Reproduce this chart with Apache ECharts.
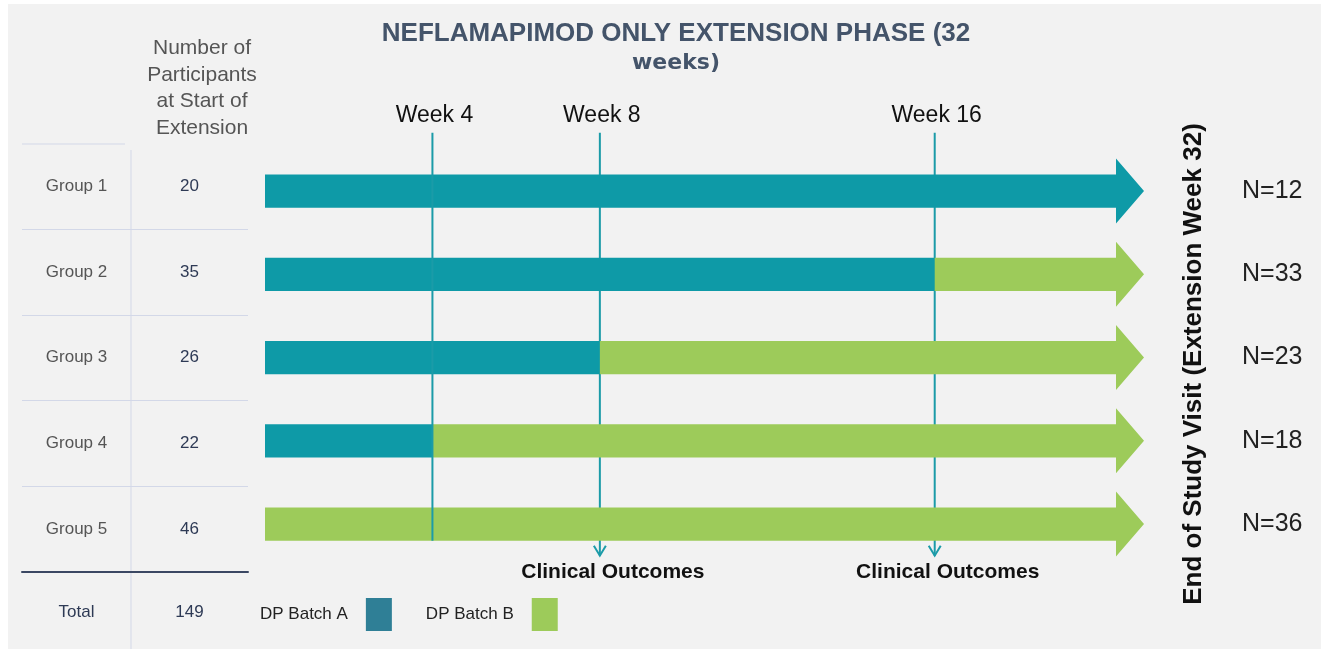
<!DOCTYPE html>
<html>
<head>
<meta charset="utf-8">
<title>Extension phase</title>
<style>
  html, body, #chart {width: 100%; height: 100%; margin: 0; overflow: hidden; background: #fff;}
</style>
</head>
<body>
<div id="chart"></div>
<script src="https://cdn.jsdelivr.net/npm/echarts@6/dist/echarts.min.js"></script>
<script>
var groups = ['Group 1', 'Group 2', 'Group 3', 'Group 4', 'Group 5'];
var startN = [20, 35, 26, 22, 46];
var endN = [12, 33, 23, 18, 36];
var total = 149;
// week where a group moves from batch A to batch B (null = stays on A)
var switchWeek = [null, 16, 8, 4, 0];
var weekMarks = [4, 8, 16];
var outcomeWeeks = [8, 16];
var arrowEnd = 21; // schematic end of the time line (arrow tip)

var teal = '#0e9aa7', green = '#9dcb5a', lineTeal = '#1b9ba8';
var sans = '"Liberation Sans", Arial, sans-serif';

var segA = [], segB = [];
groups.forEach(function (g, i) {
    var s = switchWeek[i] == null ? arrowEnd : switchWeek[i];
    if (s > 0) segA.push([0, s, i, s >= arrowEnd ? 1 : 0]);
    if (s < arrowEnd) segB.push([s, arrowEnd, i, 1]);
});

function renderBar(params, api) {
    var row = api.value(2);
    var p0 = api.coord([api.value(0), row]);
    var p1 = api.coord([api.value(1), row]);
    var band = api.size([0, 1])[1];
    var h = band * 0.4, H = band * 0.78, head = 28, y = p0[1];
    var fill = api.visual('color');
    if (!api.value(3)) {
        return {type: 'rect', shape: {x: p0[0], y: y - h / 2, width: p1[0] - p0[0], height: h}, style: {fill: fill}};
    }
    var xh = p1[0] - head;
    return {
        type: 'polygon',
        shape: {points: [[p0[0], y - h / 2], [xh, y - h / 2], [xh, y - H / 2], [p1[0], y],
                         [xh, y + H / 2], [xh, y + h / 2], [p0[0], y + h / 2]]},
        style: {fill: fill}
    };
}

function renderWeek(params, api) {
    var w = api.value(0), out = outcomeWeeks.indexOf(w) >= 0;
    var top = api.coord([w, 0]);
    var bot = api.coord([w, groups.length - 1]);
    var band = api.size([0, 1])[1];
    var x = top[0], yTop = top[1] - band * 0.7;
    var yBot = bot[1] + band * (out ? 0.38 : 0.2);
    var kids = [
        {type: 'line', shape: {x1: x, y1: yTop, x2: x, y2: yBot}, style: {stroke: lineTeal, lineWidth: 2}},
        {type: 'text', x: x + 2, y: yTop - 17,
         style: {text: 'Week ' + w, fill: '#111', font: '23px ' + sans, align: 'center', verticalAlign: 'middle'}}
    ];
    if (out) {
        kids.push({type: 'polyline', shape: {points: [[x - 6, yBot - 10], [x, yBot], [x + 6, yBot - 10]]},
                   style: {stroke: lineTeal, lineWidth: 2, fill: null}});
        kids.push({type: 'text', x: x + 13, y: yBot + 17,
                   style: {text: 'Clinical Outcomes', fill: '#111', font: 'bold 21px ' + sans, align: 'center', verticalAlign: 'middle'}});
    }
    return {type: 'group', children: kids};
}

var chart = echarts.init(document.getElementById('chart'));
chart.setOption({
    backgroundColor: '#ffffff',
    animation: false,
    title: {
        text: 'NEFLAMAPIMOD ONLY EXTENSION PHASE (32',
        subtext: 'weeks)',
        left: 671, top: 16, textAlign: 'center', itemGap: 5,
        textStyle: {fontSize: 26, fontWeight: 'bold', color: '#44546a', fontFamily: sans},
        subtextStyle: {fontSize: 22, fontWeight: 'bold', color: '#44546a', fontFamily: '"DejaVu Sans", sans-serif'}
    },
    legend: {
        left: 255, top: 593, align: 'right', icon: 'rect',
        itemWidth: 26, itemHeight: 33, itemGap: 34,
        textStyle: {fontSize: 17, color: '#222', fontFamily: sans, padding: [0, 13, 0, 0]},
        data: [
            {name: 'DP Batch A', itemStyle: {color: '#2f7f96'}},
            {name: 'DP Batch B', itemStyle: {color: green}}
        ]
    },
    grid: [
        {left: 265, right: 1321 - 1144, top: 149.4, height: 416.25},
        {left: 22, width: 226, top: 143.5, height: 428.5}
    ],
    xAxis: [
        {gridIndex: 0, type: 'value', min: 0, max: arrowEnd, show: false},
        {gridIndex: 1, type: 'value', min: 0, max: 1,
         axisLine: {show: true, lineStyle: {color: '#3b4863', width: 2}},
         axisTick: {show: false}, axisLabel: {show: false}, splitLine: {show: false}}
    ],
    yAxis: [
        {gridIndex: 0, type: 'category', data: groups, inverse: true, show: false},
        {gridIndex: 0, type: 'category', data: groups, inverse: true, position: 'right',
         axisLine: {show: false}, axisTick: {show: false},
         axisLabel: {margin: 98, fontSize: 25, color: '#222', fontFamily: sans,
                     formatter: function (v, i) { return 'N=' + endN[i]; }}},
        {gridIndex: 1, type: 'category', data: groups, inverse: true,
         axisLine: {show: false}, axisTick: {show: false},
         splitLine: {show: true, showMinLine: false, showMaxLine: false, lineStyle: {color: '#d3d8e8'}},
         axisLabel: {inside: true, margin: 0,
                     formatter: function (v, i) { return '{g|' + v + '}{n|' + startN[i] + '}'; },
                     rich: {
                         g: {width: 109, align: 'center', fontSize: 17, color: '#555', fontFamily: sans},
                         n: {width: 117, align: 'center', fontSize: 17, color: '#2e3a55', fontFamily: sans}
                     }}}
    ],
    graphic: [
        {type: 'rect', z: -10, shape: {x: 8, y: 4, width: 1313, height: 645}, style: {fill: '#f2f2f2'}},
        {type: 'line', shape: {x1: 22, y1: 144, x2: 125, y2: 144}, style: {stroke: '#d3d8e8', lineWidth: 1}},
        {type: 'line', shape: {x1: 131, y1: 150, x2: 131, y2: 649}, style: {stroke: '#d3d8e8', lineWidth: 1}},
        {type: 'text', x: 202, y: 35,
         style: {text: 'Number of\nParticipants\nat Start of\nExtension', lineHeight: 26.5,
                 font: '21px ' + sans, fill: '#555', align: 'center'}},
        {type: 'text', x: 76.5, y: 612,
         style: {text: 'Total', font: '17px ' + sans, fill: '#2e3a55', align: 'center', verticalAlign: 'middle'}},
        {type: 'text', x: 189.5, y: 612,
         style: {text: String(total), font: '17px ' + sans, fill: '#2e3a55', align: 'center', verticalAlign: 'middle'}},
        {type: 'text', x: 1194, y: 364, rotation: Math.PI / 2,
         style: {text: 'End of Study Visit (Extension Week 32)', font: 'bold 26px ' + sans, fill: '#111',
                 align: 'center', verticalAlign: 'middle'}}
    ],
    series: [
        // week lines behind the bars; the plain (non-outcome) marks sit on top, as in the source
        {name: 'outcome weeks', type: 'custom', xAxisIndex: 0, yAxisIndex: 0, silent: true, z: 1,
         renderItem: renderWeek, encode: {x: 0},
         data: weekMarks.filter(function (w) { return outcomeWeeks.indexOf(w) >= 0; }).map(function (w) { return [w]; })},
        {name: 'DP Batch A', type: 'custom', xAxisIndex: 0, yAxisIndex: 0, color: teal, z: 2,
         renderItem: renderBar, encode: {x: [0, 1], y: 2}, data: segA},
        {name: 'DP Batch B', type: 'custom', xAxisIndex: 0, yAxisIndex: 0, color: green, z: 2,
         renderItem: renderBar, encode: {x: [0, 1], y: 2}, data: segB},
        {name: 'other weeks', type: 'custom', xAxisIndex: 0, yAxisIndex: 0, silent: true, z: 3,
         renderItem: renderWeek, encode: {x: 0},
         data: weekMarks.filter(function (w) { return outcomeWeeks.indexOf(w) < 0; }).map(function (w) { return [w]; })}
    ]
});
</script>
</body>
</html>
